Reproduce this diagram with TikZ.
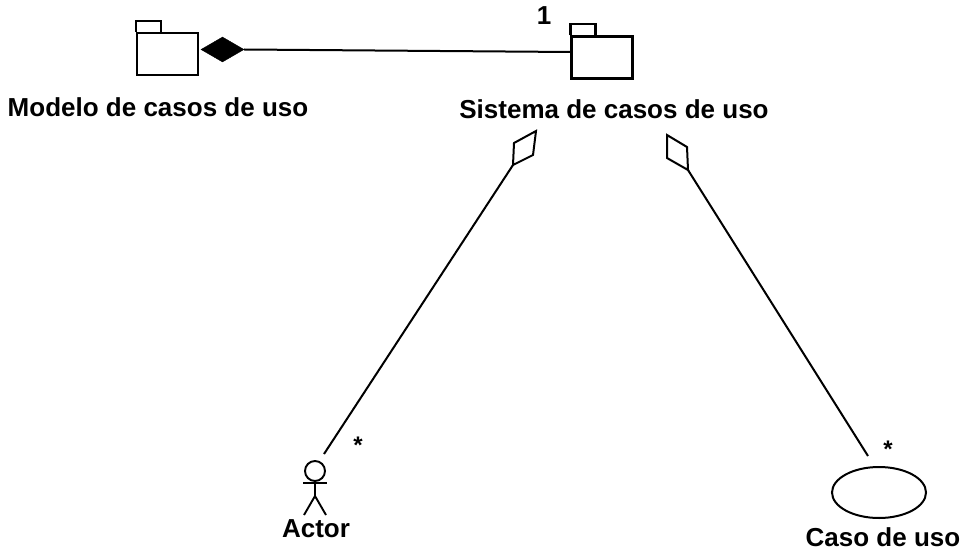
\documentclass[tikz,border=0pt]{standalone}
\usepackage{fontspec}
\setmainfont{Liberation Sans}
\usetikzlibrary{shapes.geometric,shapes.misc}
\tikzstyle{casos}=[
    x=1pt,y=-1pt,
    linea/.style={black,line width=2pt},
    paquete/.style={rectangle,draw,line width=2.2pt,minimum width=61pt,minimum height=42pt,inner sep=0pt},
    pestana/.style={draw,line width=2.2pt},
    rotulo/.style={font={\fontsize{26}{28}\selectfont\bfseries},inner sep=0pt},
    lleno/.style={diamond,fill=black,draw=black,minimum width=43pt,minimum height=25pt,inner sep=0pt},
    estrella/.style={font={\fontsize{24}{26}\selectfont\bfseries},inner sep=0pt},
    cuerpo/.style={black,line width=1.9pt},
]
\newcommand{\paquete}[2]{
    \node[paquete] (#1) at (#2) {};
    \draw[pestana] (#1.north west) -- ++(0,-11) -- ++(25,0) -- ++(0,11);
}
\newcommand{\rombo}[5]{
    \draw[linea] (#2) coordinate (#1 a) -- (#3) coordinate (#1 b) -- (#4) coordinate (#1 c) -- (#5) coordinate (#1 d) -- cycle;
}
\begin{document}
\begin{tikzpicture}[casos]
    \useasboundingbox (0,0) rectangle (973,556);

    \paquete{modelo}{167.5,54}
    \paquete{sistema}{602,57.5}
    \node[lleno] (todo) at (222.5,49.5) {};
    \draw[linea] (todo.east) -- ([yshift=5.5pt]sistema.west);

    \node[rotulo] (modelo nombre) at (158,107) {Modelo de casos de uso};
    \node[rotulo] (sistema nombre) at (614,109) {Sistema de casos de uso};
    \node[rotulo] (uno) at (544,16) {1};

    \rombo{izq}{536,131}{514,143}{513,165}{533,155}
    \rombo{der}{667,135}{687,147}{688,170}{667,158}

    % actor
    \node[circle,draw,line width=1.9pt,minimum size=20pt,inner sep=0pt] (cabeza) at (315,471) {};
    \coordinate (tronco) at (315,496);
    \coordinate (actor) at (324,454);
    \draw[cuerpo] (cabeza.south) -- (tronco) -- (304,515);
    \draw[cuerpo] (tronco) -- (326,515);
    \draw[cuerpo] (303,483) -- (327,483);
    \node[rotulo] (actor nombre) at (316,529) {Actor};
    \node[estrella] (muchos a) at (358,445) {*};

    % caso de uso
    \node[ellipse,draw,line width=2pt,minimum width=94pt,minimum height=51pt,inner sep=0pt] (caso) at (879,492.5) {};
    \coordinate (caso fin) at (868,456);
    \node[rotulo] (caso nombre) at (883,537) {Caso de uso};
    \node[estrella] (muchos b) at (888,449) {*};

    \draw[linea] (izq c) -- (actor);
    \draw[linea] (der c) -- (caso fin);
\end{tikzpicture}
\end{document}
